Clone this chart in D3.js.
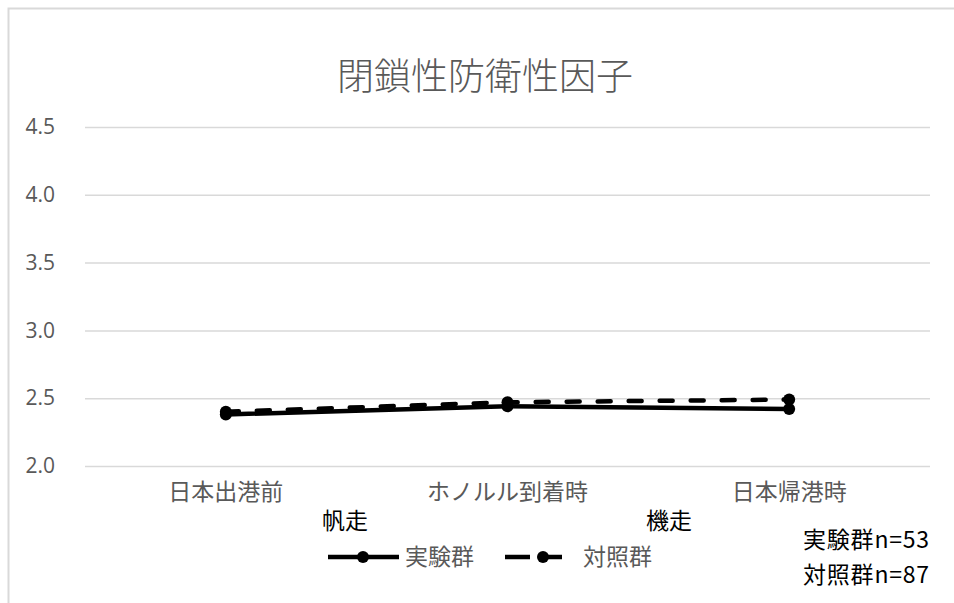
<!DOCTYPE html>
<html>
<head>
<meta charset="utf-8">
<script src="https://cdn.jsdelivr.net/npm/d3@7"></script>
<style>
  body { margin: 0; background: #fff; }
  svg { display: block; font-family: "Noto Sans CJK JP", "Noto Sans", sans-serif; }
</style>
</head>
<body>
<svg width="954" height="603"></svg>
<script>
"use strict";
// Data
const categories = ["日本出港前", "ホノルル到着時", "日本帰港時"];
const experimentValues = [2.38, 2.44, 2.42]; // 実験群 (solid)
const controlValues = [2.40, 2.47, 2.49];    // 対照群 (dashed)
const yTicks = [2.0, 2.5, 3.0, 3.5, 4.0, 4.5];
const seriesNames = ["実験群", "対照群"];
const titleText = "閉鎖性防衛性因子";
const phaseLabels = ["帆走", "機走"];
const sampleNotes = ["実験群n=53", "対照群n=87"];

const svg = d3.select("svg");
const grey = "#595959";

// chart frame
svg.append("rect")
  .attr("x", 8.5).attr("y", 8.5)
  .attr("width", 1000).attr("height", 1000)
  .attr("fill", "none").attr("stroke", "#d9d9d9").attr("stroke-width", 2);

const xScale = d3.scaleBand().domain(categories).range([85, 930]);
const yScale = d3.scaleLinear().domain([2, 4.5]).range([466, 127]);
const cx = d => xScale(d) + xScale.bandwidth() / 2;

// title
svg.append("text")
  .attr("x", 485).attr("y", 90)
  .attr("text-anchor", "middle")
  .attr("font-size", 37).attr("font-weight", 300)
  .attr("fill", grey)
  .text(titleText);

// gridlines + y labels
const yAxis = d3.axisLeft(yScale)
  .tickValues(yTicks)
  .tickSize(-(930 - 85))
  .tickPadding(30)
  .tickFormat(d3.format(".1f"));
const gy = svg.append("g").attr("transform", "translate(85,0)").call(yAxis);
gy.select(".domain").remove();
gy.selectAll(".tick line").attr("stroke", "#d9d9d9").attr("stroke-width", 1.5);
gy.selectAll(".tick text")
  .attr("fill", grey).attr("font-size", 21)
  .attr("font-family", "'Open Sans', 'Noto Sans', sans-serif");

// category labels
const xAxis = d3.axisBottom(xScale).tickSize(0).tickPadding(18);
const gx = svg.append("g").attr("transform", "translate(0,466)").call(xAxis);
gx.select(".domain").remove();
gx.selectAll(".tick text")
  .attr("fill", grey).attr("font-size", 23)
  .attr("font-family", "'Noto Sans CJK JP', sans-serif");

const line = d3.line().x((d, i) => cx(categories[i])).y(d => yScale(d));

const series = [
  { name: seriesNames[0], values: experimentValues, dash: null },
  { name: seriesNames[1], values: controlValues, dash: "13,18" }
];

series.forEach(s => {
  svg.append("path")
    .datum(s.values)
    .attr("d", line)
    .attr("fill", "none")
    .attr("stroke", "#000")
    .attr("stroke-width", 4.5)
    .attr("stroke-linecap", s.dash ? "round" : "butt")
    .attr("stroke-dasharray", s.dash);
  svg.selectAll(null)
    .data(s.values)
    .enter()
    .append("circle")
    .attr("cx", (d, i) => cx(categories[i]))
    .attr("cy", d => yScale(d))
    .attr("r", 6)
    .attr("fill", "#000");
});

// phase annotations
svg.append("text").attr("x", 345).attr("y", 529).attr("text-anchor", "middle")
  .attr("font-size", 23).attr("fill", "#000").text(phaseLabels[0]);
svg.append("text").attr("x", 669).attr("y", 529).attr("text-anchor", "middle")
  .attr("font-size", 23).attr("fill", "#000").text(phaseLabels[1]);

// sample sizes
sampleNotes.forEach((t, i) => {
  svg.append("text").attr("x", 803).attr("y", 548 + i * 35)
    .attr("font-size", 23).attr("letter-spacing", 0.8).attr("fill", "#000").text(t);
});

// legend
const legendY = 557;
const legendItems = [
  { x1: 328, x2: 399, mx: 363, tx: 405, dash: null },
  { x1: 505, x2: 562, mx: 543, tx: 583, dash: "25,13" }
];
legendItems.forEach((it, i) => {
  svg.append("line")
    .attr("x1", it.x1).attr("x2", it.x2)
    .attr("y1", legendY).attr("y2", legendY)
    .attr("stroke", "#000").attr("stroke-width", 4.5)
    .attr("stroke-dasharray", it.dash);
  svg.append("circle").attr("cx", it.mx).attr("cy", legendY).attr("r", 6).attr("fill", "#000");
  svg.append("text").attr("x", it.tx).attr("y", legendY + 8)
    .attr("font-size", 23).attr("fill", grey).text(series[i].name);
});
</script>
</body>
</html>
